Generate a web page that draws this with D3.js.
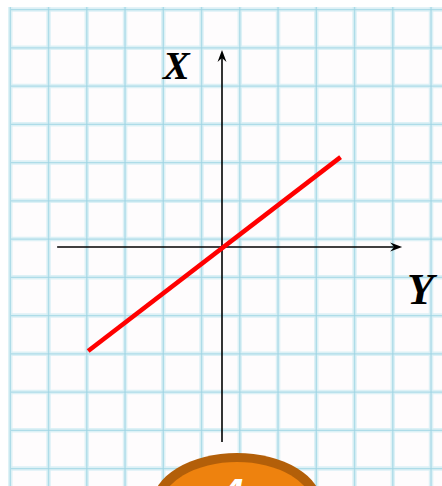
<!DOCTYPE html>
<html>
<head>
<meta charset="utf-8">
<script src="https://cdn.jsdelivr.net/npm/d3@7"></script>
<style>
  html, body { margin: 0; padding: 0; background: #ffffff; }
  svg { display: block; }
</style>
</head>
<body>
<svg id="chart" width="442" height="486"></svg>
<script>
// ---- data ----
const gridCols = d3.range(0, 12);          // vertical grid line indices
const gridRows = d3.range(0, 13);          // horizontal grid line indices
const lineX = [-3.5, 3.1];                 // red line, horizontal-axis values
const lineY = [-2.72, 2.35];               // red line, vertical-axis values
const axisH = [-4.31, 4.71];               // horizontal axis extent
const axisV = [-5.1, 5.15];                // vertical axis extent
const axisLabels = ["X", "Y"];             // vertical, horizontal axis labels
const badgeText = ["4"];

const W = 442, H = 486;
const svg = d3.select("#chart");

// paper
svg.append("rect").attr("x", 11).attr("y", 7).attr("width", W - 11).attr("height", H - 7)
  .attr("fill", "#fefcfd");

// grid scales
const gx = d3.scaleLinear().domain([0, 1]).range([10.3, 48.55]);
const gy = d3.scaleLinear().domain([0, 1]).range([9.6, 47.85]);

const grid = svg.append("g");
function drawGrid(width, color, op) {
  grid.append("g").selectAll("line").data(gridCols).join("line")
    .attr("x1", d => gx(d)).attr("x2", d => gx(d))
    .attr("y1", 7).attr("y2", H)
    .attr("stroke", color).attr("stroke-width", width).attr("opacity", op);
  grid.append("g").selectAll("line").data(gridRows).join("line")
    .attr("y1", d => gy(d)).attr("y2", d => gy(d))
    .attr("x1", 11).attr("x2", W)
    .attr("stroke", color).attr("stroke-width", width).attr("opacity", op);
}
drawGrid(4.5, "#d6eff5", 0.8);
drawGrid(1.4, "#9fd5e4", 0.75);

// axes scales (units = grid cells)
const unit = 38.25;
const x = d3.scaleLinear().domain([-6, 6]).range([222 - 6 * unit, 222 + 6 * unit]);
const y = d3.scaleLinear().domain([-6, 6]).range([247 + 6 * unit, 247 - 6 * unit]);

// axes
const axes = svg.append("g").attr("stroke", "#000").attr("stroke-width", 1.6).attr("fill", "none");
axes.append("line").attr("x1", x(axisH[0])).attr("x2", x(axisH[1]) - 3)
  .attr("y1", y(0)).attr("y2", y(0));
axes.append("line").attr("x1", x(0)).attr("x2", x(0))
  .attr("y1", y(axisV[0])).attr("y2", y(axisV[1]) + 3);

// arrowheads
const hx = x(axisH[1]), hy = y(0);
svg.append("path")
  .attr("d", `M${hx},${hy} L${hx - 12},${hy - 4.5} L${hx - 8},${hy} L${hx - 12},${hy + 4.5} Z`)
  .attr("fill", "#000");
const vx = x(0), vy = y(axisV[1]);
svg.append("path")
  .attr("d", `M${vx},${vy} L${vx - 4.5},${vy + 12} L${vx},${vy + 8} L${vx + 4.5},${vy + 12} Z`)
  .attr("fill", "#000");

// red line
const pts = lineX.map((d, i) => [d, lineY[i]]);
svg.append("path").datum(pts)
  .attr("d", d3.line().x(d => x(d[0])).y(d => y(d[1])))
  .attr("stroke", "#ff0000").attr("stroke-width", 4.6).attr("fill", "none");

// axis labels
svg.append("text").attr("x", 163).attr("y", 79)
  .attr("font-family", "'Liberation Serif', 'DejaVu Serif', serif")
  .attr("font-style", "italic").attr("font-weight", "bold").attr("font-size", 40).attr("fill", "#000")
  .text(axisLabels[0]);
svg.append("text").attr("x", 407).attr("y", 304)
  .attr("font-family", "'Liberation Serif', 'DejaVu Serif', serif")
  .attr("font-style", "italic").attr("font-weight", "bold").attr("font-size", 44).attr("fill", "#000")
  .text(axisLabels[1]);

// badge
svg.append("ellipse").attr("cx", 237).attr("cy", 505).attr("rx", 85).attr("ry", 52)
  .attr("fill", "#b35f09");
svg.append("ellipse").attr("cx", 237).attr("cy", 507).attr("rx", 76).attr("ry", 45)
  .attr("fill", "#ee820e");
svg.append("text").attr("x", 232).attr("y", 507).attr("text-anchor", "middle")
  .attr("font-family", "'Liberation Sans', Arial, sans-serif").attr("font-weight", "bold")
  .attr("font-style", "italic").attr("font-size", 40).attr("fill", "#ffffff")
  .text(badgeText[0]);
</script>
</body>
</html>
